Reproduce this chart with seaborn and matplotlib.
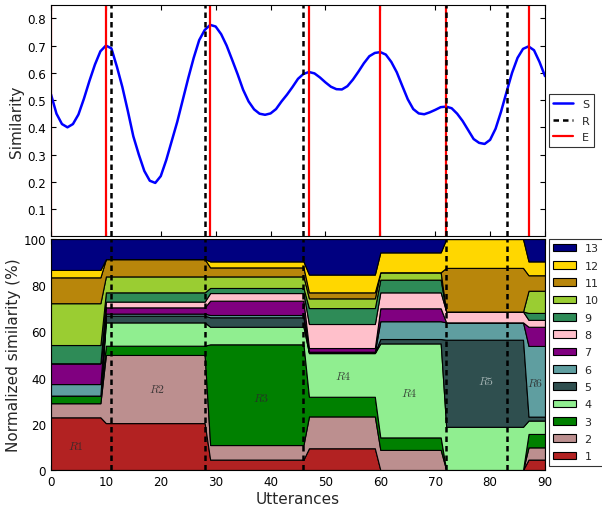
import numpy as np
import pandas as pd
import matplotlib
matplotlib.use("Agg")
import matplotlib.pyplot as plt
import seaborn as sns
from matplotlib.patches import Patch
from matplotlib.lines import Line2D

# ---------------- data ----------------
utterances = list(range(91))
similarity = [
    0.521, 0.450, 0.412, 0.400, 0.412, 0.447, 0.505, 0.570, 0.630, 0.679,
    0.700, 0.690, 0.623, 0.548, 0.460, 0.367, 0.300, 0.240, 0.204, 0.196,
    0.221, 0.280, 0.350, 0.420, 0.500, 0.580, 0.655, 0.720, 0.757, 0.776,
    0.770, 0.742, 0.700, 0.648, 0.595, 0.538, 0.495, 0.466, 0.450, 0.446,
    0.451, 0.467, 0.495, 0.520, 0.548, 0.578, 0.596, 0.603, 0.598, 0.583,
    0.565, 0.549, 0.540, 0.539, 0.551, 0.575, 0.604, 0.635, 0.661, 0.673,
    0.676, 0.667, 0.640, 0.602, 0.552, 0.503, 0.467, 0.451, 0.448, 0.455,
    0.464, 0.474, 0.476, 0.470, 0.450, 0.423, 0.390, 0.357, 0.343, 0.339,
    0.354, 0.395, 0.458, 0.530, 0.600, 0.655, 0.688, 0.697, 0.683, 0.640,
    0.588,
]
r_lines = [11, 28, 46, 72, 83]
e_lines = [0, 10, 29, 47, 60, 72, 87]

series_labels = ["1", "2", "3", "4", "5", "6", "7", "8", "9", "10", "11", "12", "13"]
segment_starts = [0, 10, 29, 47, 60, 72, 87]
segment_ends = [9, 28, 46, 59, 71, 86, 90]
segment_names = ["$R1$", "$R2$", "$R3$", "$R4$", "$R4$", "$R5$", "$R6$"]
# band heights (%) of series 1..13 in each segment
seg_A = [22.8, 6.1, 3.3, 0.0, 0.0, 5.0, 9.0, 0.0, 7.9, 18.1, 11.2, 3.2, 13.4]
seg_B = [20.3, 29.5, 4.0, 10.1, 2.9, 0.9, 2.7, 2.5, 4.0, 6.9, 7.5, 0.0, 8.7]
seg_C = [4.5, 6.3, 43.6, 7.6, 4.1, 1.0, 6.2, 3.3, 2.2, 5.0, 3.9, 2.6, 9.7]
seg_D = [9.4, 13.8, 8.5, 18.9, 0.3, 0.3, 1.6, 10.4, 6.9, 4.2, 2.6, 7.7, 15.4]
seg_E = [0.0, 8.7, 5.4, 40.7, 1.9, 7.7, 5.6, 6.9, 5.5, 3.2, 0.0, 8.6, 5.8]
seg_F = [0.0, 0.0, 0.0, 18.7, 37.7, 7.5, 0.0, 4.7, 0.0, 0.0, 18.9, 12.5, 0.0]
seg_G = [4.5, 5.3, 5.8, 5.8, 1.7, 30.6, 8.3, 3.0, 3.0, 9.6, 6.7, 6.0, 9.7]
segments = [seg_A, seg_B, seg_C, seg_D, seg_E, seg_F, seg_G]

# label placement (x, y) for region names
label_x = [4.5, 19.3, 38.3, 53.3, 65.3, 79.3, 88.3]
label_y = [10.5, 35.4, 31.5, 40.8, 33.6, 38.7, 37.7]

colors = ["#B22222", "#BC8F8F", "#008000", "#90EE90", "#2F4F4F", "#5F9EA0",
          "#800080", "#FFC0CB", "#2E8B57", "#9ACD32", "#B8860B", "#FFD700", "#000080"]

# ---------------- style ----------------
sns.set_style("ticks", rc={
    "xtick.direction": "in", "ytick.direction": "in",
    "xtick.top": True, "ytick.right": True,
    "axes.edgecolor": "black", "axes.linewidth": 1.0,
    "xtick.color": "black", "ytick.color": "black",
    "xtick.major.size": 4, "ytick.major.size": 4,
})
plt.rcParams["font.family"] = ["DejaVu Sans"]
plt.rcParams["mathtext.fontset"] = "cm"

fig = plt.figure(figsize=(6.02, 5.06), dpi=100)
ax1 = fig.add_axes([0.0847, 0.5310, 0.8206, 0.4577])
ax2 = fig.add_axes([0.0847, 0.0692, 0.8206, 0.4565])

dash = (0, (2.2, 1.6))

# ---------------- top panel ----------------
df = pd.DataFrame({"Utterances": utterances, "Similarity": similarity})
sns.lineplot(data=df, x="Utterances", y="Similarity", ax=ax1, color="blue", lw=1.8)
for xe in e_lines:
    ax1.axvline(xe, color="red", lw=1.6, zorder=2)
for xr in r_lines:
    ax1.axvline(xr, color="black", lw=1.8, ls=dash, zorder=3)
ax1.set_xlim(0, 90)
ax1.set_ylim(0, 0.85)
ax1.set_yticks([0.1, 0.2, 0.3, 0.4, 0.5, 0.6, 0.7, 0.8])
ax1.set_xticks(range(0, 91, 10))
ax1.set_xticklabels([])
ax1.set_xlabel("")
ax1.set_ylabel("Similarity", fontsize=11, labelpad=2)
ax1.tick_params(labelsize=8.6)
h_top = [Line2D([], [], color="blue", lw=1.8),
         Line2D([], [], color="black", lw=1.8, ls=dash),
         Line2D([], [], color="red", lw=1.6)]
leg1 = ax1.legend(h_top, ["S", "R", "E"], loc="center left", bbox_to_anchor=(1.008, 0.5),
                  fontsize=8, frameon=True, fancybox=False, handlelength=1.8,
                  labelspacing=0.6, borderaxespad=0.0)
leg1.get_frame().set_edgecolor("black")
leg1.get_frame().set_linewidth(0.8)

# ---------------- bottom panel ----------------
bands = []
for k in range(len(series_labels)):
    vals = np.zeros(len(utterances))
    for s, e, seg in zip(segment_starts, segment_ends, segments):
        for i in range(s, e + 1):
            vals[i] = seg[k]
    bands.append(vals)
ax2.stackplot(utterances, *bands, colors=colors, edgecolor="black", linewidth=0.8)
for xr in r_lines:
    ax2.axvline(xr, color="black", lw=1.8, ls=dash, zorder=3)
for name, lx, ly in zip(segment_names, label_x, label_y):
    tc = "#b8c4c4" if name == "$R5$" else "#2a2a2a"
    ax2.text(lx, ly, name, fontsize=8.5, ha="center", va="center", color=tc, alpha=0.85)
ax2.set_xlim(0, 90)
ax2.set_ylim(0, 100)
ax2.set_xticks(range(0, 91, 10))
ax2.set_yticks(range(0, 101, 20))
ax2.tick_params(labelsize=8.6)
ax2.set_xlabel("Utterances", fontsize=11, labelpad=2)
ax2.set_ylabel("Normalized similarity (%)", fontsize=11, labelpad=2)
handles = [Patch(facecolor=c, edgecolor="black", lw=0.8) for c in colors][::-1]
leg2 = ax2.legend(handles, series_labels[::-1], loc="upper left", bbox_to_anchor=(1.008, 1.0),
                  fontsize=8, frameon=True, fancybox=False, handlelength=2.0,
                  labelspacing=0.66, borderaxespad=0.0)
leg2.get_frame().set_edgecolor("black")
leg2.get_frame().set_linewidth(0.8)

fig.savefig("out.png", dpi=100)
